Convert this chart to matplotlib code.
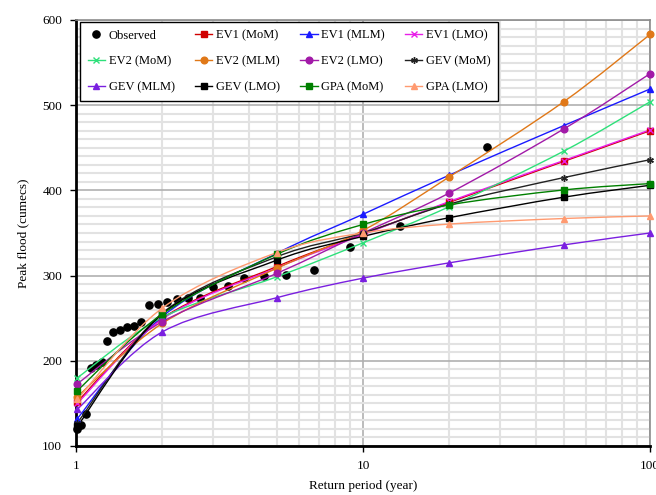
import numpy as np
import matplotlib
matplotlib.use('Agg')
import matplotlib.pyplot as plt
from matplotlib.path import Path
from matplotlib.patches import PathPatch
from matplotlib.lines import Line2D
from matplotlib.ticker import FixedLocator, FixedFormatter, MultipleLocator, LogLocator, NullFormatter

plt.rcParams['font.family'] = ['Liberation Serif', 'DejaVu Serif']

# Observed peak floods (Weibull plotting positions)
obs_T = [27.0, 13.5, 9.0, 6.75, 5.4, 4.5, 3.857, 3.375, 3.0, 2.7, 2.455, 2.25,
         2.077, 1.929, 1.8, 1.6875, 1.588, 1.5, 1.421, 1.35, 1.286, 1.227,
         1.174, 1.125, 1.08, 1.038, 1.01]
obs_Q = [451, 358, 334, 306, 301, 299.5, 297, 288, 286.5, 274, 274, 272.5,
         269.5, 267, 266, 246, 240.5, 240, 236, 233.5, 223, 198,
         195, 192, 138, 125, 120]

# Return periods of the fitted quantiles
T = [1.01, 2, 5, 10, 20, 50, 100]

ev1_mom = [152, 250, 310.5, 349, 386, 434, 470]
ev1_mlm = [132, 252, 326, 372, 418, 476, 519]
ev1_lmo = [150, 249, 309, 348, 387, 435, 471]
ev2_mom = [180, 251, 298.5, 338.5, 381, 446, 504]
ev2_mlm = [158, 244, 308.5, 353, 416, 504, 583]
ev2_lmo = [173, 246, 302.5, 350, 397, 472, 537]
gev_mom = [127, 256, 322, 350, 384, 415, 436]
gev_mlm = [143, 234, 274, 297, 315, 336, 350]
gev_lmo = [123, 255, 318, 346, 368, 392, 406]
gpa_mom = [165, 255, 325, 360, 383, 400.5, 408]
gpa_lmo = [155, 262, 327, 350, 360.5, 367, 370]

series = [
    ('EV1 (MoM)', ev1_mom, '#D00000', 's'),
    ('EV1 (MLM)', ev1_mlm, '#1A1AFF', '^'),
    ('EV1 (LMO)', ev1_lmo, '#E81EE8', 'x'),
    ('EV2 (MoM)', ev2_mom, '#2EE07A', 'x'),
    ('EV2 (MLM)', ev2_mlm, '#E07818', 'o'),
    ('EV2 (LMO)', ev2_lmo, '#A21AA8', 'o'),
    ('GEV (MoM)', gev_mom, '#222222', (6, 2, 0)),
    ('GEV (MLM)', gev_mlm, '#7A1FE0', '^'),
    ('GEV (LMO)', gev_lmo, '#000000', 's'),
    ('GPA (MoM)', gpa_mom, '#008000', 's'),
    ('GPA (LMO)', gpa_lmo, '#FF9A70', '^'),
]


def smooth_path(x, y):
    # Catmull-Rom style Bezier in (log10 x, y) space, like a smoothed Excel line
    u = np.log10(np.asarray(x, float))
    v = np.asarray(y, float)
    P = np.column_stack([u, v])
    n = len(P)
    verts = [P[0]]
    codes = [Path.MOVETO]
    for i in range(n - 1):
        p0 = P[i - 1] if i > 0 else P[i]
        p3 = P[i + 2] if i + 2 < n else P[i + 1]
        c1 = P[i] + (P[i + 1] - p0) / 6
        c2 = P[i + 1] - (p3 - P[i]) / 6
        verts += [c1, c2, P[i + 1]]
        codes += [Path.CURVE4] * 3
    verts = np.array(verts)
    verts[:, 0] = 10 ** verts[:, 0]
    return Path(verts, codes)


fig = plt.figure(figsize=(6.56, 4.95), dpi=100)
ax = fig.add_axes([0.1159, 0.099, 0.875, 0.8606])

ax.set_xscale('log')
ax.set_xlim(1, 100)
ax.set_ylim(100, 600)

ax.plot(obs_T, obs_Q, 'o', color='black', ms=5.2, ls='none', zorder=2, clip_on=False)

handles = [Line2D([], [], color='black', marker='o', ls='none', ms=5.2, label='Observed')]
for name, q, col, mk in series:
    ax.add_patch(PathPatch(smooth_path(T, q), fill=False, edgecolor=col, lw=1.0, zorder=3,
                           clip_on=False))
    ax.plot(T, q, ls='none', marker=mk, color=col, ms=4.8, mew=1.0, zorder=4, clip_on=False)
    handles.append(Line2D([], [], color=col, marker=mk, lw=1.0, ms=4.8, label=name))

# grid
ax.yaxis.set_major_locator(MultipleLocator(100))
ax.yaxis.set_minor_locator(MultipleLocator(10))
ax.xaxis.set_major_locator(FixedLocator([1, 10, 100]))
ax.xaxis.set_major_formatter(FixedFormatter(['1', '10', '100']))
ax.xaxis.set_minor_locator(LogLocator(base=10, subs=np.arange(2, 10)))
ax.xaxis.set_minor_formatter(NullFormatter())
ax.grid(True, which='major', color='#B0B0B0', lw=1.2, zorder=0)
ax.grid(True, which='minor', color='#E2E2E2', lw=1.5, zorder=0)
ax.set_axisbelow(True)

ax.tick_params(which='major', direction='out', length=4, width=1, color='black',
               labelsize=9.5, pad=6)
ax.tick_params(which='minor', length=0)

for s in ['left', 'bottom']:
    ax.spines[s].set_linewidth(2)
    ax.spines[s].set_color('black')
for s in ['top', 'right']:
    ax.spines[s].set_linewidth(1.2)
    ax.spines[s].set_color('#8C8C8C')

ax.set_xlabel('Return period (year)', fontsize=9.5, labelpad=6)
ax.set_ylabel('Peak flood (cumecs)', fontsize=9.5, labelpad=9)

# legend laid out row by row
order = [0, 4, 8, 1, 5, 9, 2, 6, 10, 3, 7, 11]
leg = ax.legend([handles[i] for i in order], [handles[i].get_label() for i in order],
                ncol=4, loc='upper left', bbox_to_anchor=(0.007, 0.995), fontsize=9,
                frameon=True, fancybox=False, edgecolor='black', framealpha=1,
                handlelength=1.4, handletextpad=0.3, columnspacing=1.6,
                borderpad=0.6, labelspacing=1.1, borderaxespad=0.0)
leg.get_frame().set_linewidth(1.0)
leg.set_zorder(10)

fig.savefig('out.png', dpi=100)
